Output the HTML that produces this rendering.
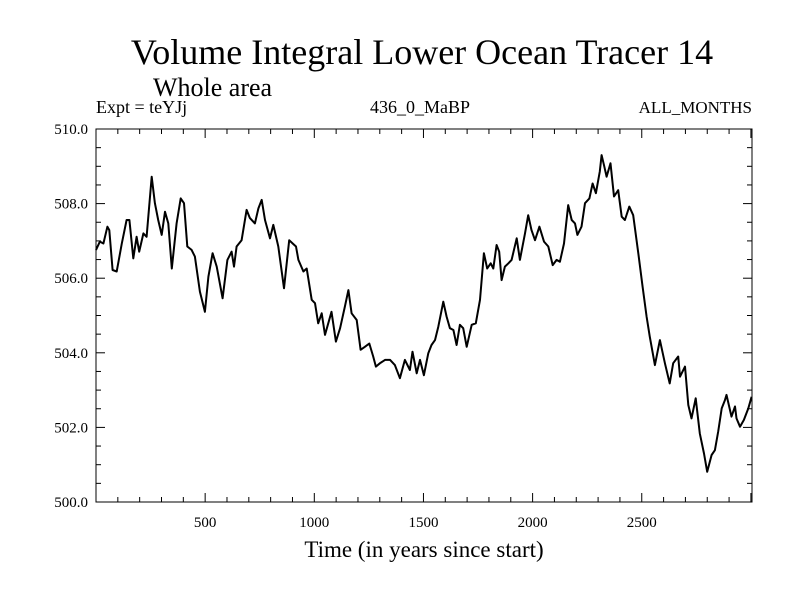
<!DOCTYPE html>
<html><head><meta charset="utf-8"><style>
body{margin:0;background:#fff}
svg text{font-family:"Liberation Serif",serif;fill:#000}
</style></head><body>
<svg width="800" height="600" viewBox="0 0 800 600">
<text x="422" y="64" font-size="36" text-anchor="middle">Volume Integral Lower Ocean Tracer 14</text>
<text x="153" y="96" font-size="26">Whole area</text>
<text x="96" y="113" font-size="18">Expt = teYJj</text>
<text x="420" y="113" font-size="18" text-anchor="middle">436_0_MaBP</text>
<text x="752" y="113" font-size="17" text-anchor="end">ALL_MONTHS</text>
<text x="424" y="557" font-size="23" text-anchor="middle">Time (in years since start)</text>
<g id="axes"></g>
<rect x="96" y="129" width="656" height="373" fill="none" stroke="#000" stroke-width="1"/>
<g id="series"></g>
</svg>
<script>
const years=[0,18,34,52,61,76,95,118,140,153,171,186,198,217,232,255,270,285,301,316,331,347,369,388,403,418,438,453,476,499,515,534,553,580,602,621,632,644,667,690,705,728,744,759,774,797,812,835,861,885,901,916,927,950,965,988,1003,1018,1034,1049,1079,1099,1118,1140,1156,1171,1194,1212,1232,1252,1270,1282,1301,1324,1347,1369,1392,1415,1438,1450,1469,1484,1502,1522,1537,1553,1568,1591,1606,1621,1637,1652,1667,1682,1698,1721,1740,1759,1777,1792,1808,1820,1835,1847,1858,1873,1889,1904,1927,1942,1965,1980,1995,2011,2031,2052,2072,2092,2110,2125,2144,2163,2179,2194,2205,2224,2240,2260,2275,2290,2308,2316,2327,2339,2357,2373,2392,2408,2423,2443,2461,2484,2504,2522,2537,2560,2583,2606,2628,2644,2667,2675,2698,2713,2728,2747,2766,2785,2800,2820,2835,2850,2866,2881,2888,2911,2927,2934,2950,2968,2988,3003];
const values=[506.76,506.98,506.93,507.38,507.29,506.22,506.18,506.93,507.56,507.56,506.53,507.11,506.71,507.20,507.11,508.72,508.01,507.56,507.16,507.78,507.47,506.26,507.47,508.14,508.01,506.85,506.76,506.58,505.64,505.10,506.04,506.67,506.31,505.46,506.49,506.71,506.31,506.85,507.02,507.83,507.61,507.47,507.87,508.10,507.56,507.07,507.43,506.85,505.73,507.02,506.93,506.85,506.49,506.18,506.26,505.42,505.33,504.79,505.06,504.48,505.10,504.30,504.66,505.24,505.68,505.06,504.88,504.08,504.16,504.25,503.90,503.63,503.72,503.81,503.81,503.67,503.32,503.81,503.54,504.03,503.45,503.81,503.40,503.99,504.21,504.34,504.70,505.37,504.97,504.66,504.61,504.21,504.75,504.66,504.16,504.75,504.79,505.42,506.67,506.26,506.40,506.26,506.89,506.71,505.95,506.31,506.40,506.49,507.07,506.49,507.20,507.69,507.29,507.02,507.38,506.98,506.85,506.35,506.49,506.44,506.93,507.96,507.56,507.47,507.16,507.38,508.01,508.14,508.54,508.28,508.86,509.30,509.03,508.72,509.08,508.19,508.36,507.65,507.56,507.92,507.69,506.67,505.77,504.97,504.43,503.67,504.34,503.72,503.18,503.72,503.90,503.36,503.63,502.60,502.24,502.78,501.84,501.30,500.81,501.26,501.39,501.89,502.51,502.73,502.87,502.29,502.56,502.24,502.02,502.20,502.51,502.82];
const yTicks=[500,502,504,506,508,510];
const yTickLabels=["500.0","502.0","504.0","506.0","508.0","510.0"];
const xTicks=[500,1000,1500,2000,2500];
const xTickLabels=["500","1000","1500","2000","2500"];
const X0=96,X1=752,Y0=502,Y1=129,XMAX=3005,YMIN=500,YMAX=510;
const sx=v=>X0+(v/XMAX)*(X1-X0);
const sy=v=>Y0-(v-YMIN)/(YMAX-YMIN)*(Y0-Y1);
const NS="http://www.w3.org/2000/svg";
const axes=document.getElementById('axes');
function ln(x1,y1,x2,y2){const l=document.createElementNS(NS,'line');l.setAttribute('x1',x1);l.setAttribute('y1',y1);l.setAttribute('x2',x2);l.setAttribute('y2',y2);l.setAttribute('stroke','#000');l.setAttribute('stroke-width','1');


axes.appendChild(l);}
for(let v=YMIN;v<=YMAX+1e-9;v+=0.5){const y=sy(v);const major=Math.abs(v%2)<1e-9;const L=major?9:5;ln(X0,y,X0+L,y);ln(X1,y,X1-L,y);}
for(let v=100;v<XMAX;v+=100){const x=sx(v);const major=v%500===0;const L=major?9:5;ln(x,Y0,x,Y0-L);ln(x,Y1,x,Y1+L);}
yTicks.forEach((v,i)=>{const t=document.createElementNS(NS,'text');t.setAttribute('x',88);t.setAttribute('y',sy(v)+5);t.setAttribute('font-size','15');t.setAttribute('text-anchor','end');t.textContent=yTickLabels[i];


axes.appendChild(t);});
xTicks.forEach((v,i)=>{const t=document.createElementNS(NS,'text');t.setAttribute('x',sx(v));t.setAttribute('y',527);t.setAttribute('font-size','15');t.setAttribute('text-anchor','middle');t.textContent=xTickLabels[i];


axes.appendChild(t);});
const p=document.createElementNS(NS,'path');
p.setAttribute('d',years.map((yr,i)=>(i?'L':'M')+sx(yr).toFixed(1)+','+sy(values[i]).toFixed(1)).join(''));
p.setAttribute('fill','none');p.setAttribute('stroke','#000');p.setAttribute('stroke-width','2');p.setAttribute('stroke-linejoin','round');


document.getElementById('series').appendChild(p);
</script>
</body></html>
